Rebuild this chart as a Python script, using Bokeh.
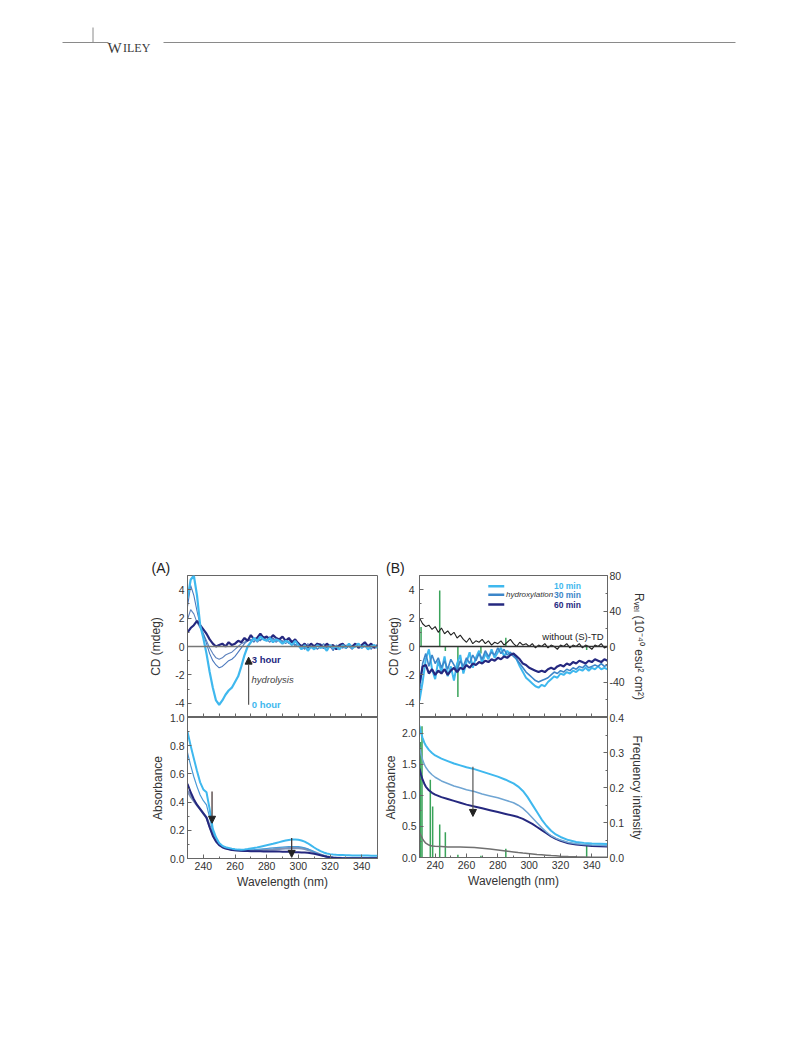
from bokeh.plotting import figure
from bokeh.layouts import column, row
from bokeh.models import (Range1d, LinearAxis, FixedTicker, NumeralTickFormatter, Label,
                          Arrow, NormalHead, Span, Spacer, ColumnDataSource)
from bokeh.embed import file_html
from bokeh.resources import INLINE

FONT = "Liberation Sans"

# ------------------------------------------------------------------ data
wl = list(range(230, 351, 2))

# Panel A - CD (mdeg), hydrolysis 0 h ... 3 h
a_cd_0h = [3.4, 4.7, 5.0, 3.6, 1.5, 0.6, -0.5, -1.8, -2.9, -3.8,
           -4.1, -3.8, -3.4, -3.1, -2.9, -2.5, -2.1, -1.4, -0.6, 0.0,
           0.3, 0.6, 0.4, 0.7, 0.5, 0.4, 0.6, 0.3, 0.5, 0.4,
           0.2, 0.4, 0.3, 0.1, 0.4, 0.1, -0.2, 0.1, -0.3, 0.0,
           -0.2, 0.1, -0.1, 0.0, -0.3, 0.1, -0.1, 0.0, -0.2, 0.1,
           -0.1, 0.2, -0.1, 0.0, 0.2, -0.1, 0.1, -0.2, 0.0, 0.1,
           -0.1]
a_cd_1h = [2.8, 4.3, 3.6, 2.5, 1.5, 0.9, 0.2, -0.5, -1.0, -1.3,
           -1.5, -1.4, -1.2, -1.0, -0.9, -0.7, -0.4, -0.1, 0.2, 0.4,
           0.5, 0.3, 0.6, 0.4, 0.7, 0.5, 0.3, 0.6, 0.4, 0.5,
           0.3, 0.5, 0.2, 0.4, 0.1, 0.3, 0.0, -0.2, 0.1, -0.1,
           0.1, -0.2, 0.0, 0.2, -0.1, 0.0, -0.3, 0.1, 0.0, -0.1,
           0.1, 0.0, -0.2, 0.1, 0.2, -0.1, 0.0, 0.1, -0.2, 0.1,
           0.0]
a_cd_2h = [1.9, 2.6, 2.3, 1.7, 1.3, 0.9, 0.4, -0.1, -0.5, -0.8,
           -0.9, -0.8, -0.6, -0.5, -0.4, -0.2, 0.0, 0.2, 0.3, 0.5,
           0.4, 0.6, 0.3, 0.5, 0.6, 0.4, 0.7, 0.5, 0.3, 0.5,
           0.4, 0.2, 0.4, 0.3, 0.0, 0.2, 0.1, -0.1, 0.2, 0.0,
           -0.1, 0.1, 0.2, -0.1, 0.0, 0.1, -0.2, 0.0, 0.1, -0.1,
           0.0, 0.1, -0.1, 0.2, 0.0, -0.1, 0.1, 0.0, 0.2, -0.1,
           0.1]
a_cd_3h = [1.0, 1.3, 1.5, 1.8, 1.5, 1.2, 0.9, 0.5, 0.2, 0.0,
           0.1, 0.2, 0.0, 0.3, 0.1, 0.2, 0.4, 0.3, 0.6, 0.4,
           0.8, 0.5, 0.6, 0.9, 0.6, 0.7, 0.5, 0.8, 0.6, 0.5,
           0.7, 0.4, 0.6, 0.3, 0.5, 0.2, 0.0, 0.2, -0.1, 0.2,
           0.0, 0.2, 0.1, -0.1, 0.2, 0.0, 0.1, -0.2, 0.1, 0.2,
           -0.1, 0.1, 0.0, 0.2, -0.1, 0.1, 0.3, 0.0, 0.2, -0.1,
           0.1]

# Panel A - Absorbance
a_abs_0h = [0.90, 0.80, 0.71, 0.62, 0.54, 0.49, 0.47, 0.35, 0.21, 0.15,
            0.11, 0.09, 0.08, 0.075, 0.07, 0.066, 0.063, 0.062, 0.064, 0.067,
            0.071, 0.075, 0.079, 0.084, 0.089, 0.094, 0.099, 0.104, 0.11, 0.116,
            0.122, 0.127, 0.131, 0.134, 0.135, 0.133, 0.128, 0.12, 0.108, 0.093,
            0.078, 0.064, 0.052, 0.043, 0.036, 0.031, 0.028, 0.026, 0.025, 0.024,
            0.023, 0.023, 0.022, 0.022, 0.022, 0.021, 0.021, 0.021, 0.02, 0.02,
            0.02]
a_abs_1h = [0.75, 0.66, 0.58, 0.51, 0.45, 0.41, 0.38, 0.29, 0.19, 0.14,
            0.10, 0.085, 0.075, 0.07, 0.066, 0.063, 0.061, 0.06, 0.06, 0.061,
            0.062, 0.063, 0.065, 0.067, 0.069, 0.071, 0.073, 0.075, 0.077, 0.079,
            0.081, 0.083, 0.084, 0.085, 0.085, 0.084, 0.081, 0.076, 0.068, 0.058,
            0.047, 0.036, 0.026, 0.018, 0.012, 0.008, 0.006, 0.005, 0.004, 0.004,
            0.003, 0.003, 0.003, 0.003, 0.003, 0.003, 0.003, 0.003, 0.003, 0.003,
            0.003]
a_abs_2h = [0.48, 0.44, 0.41, 0.38, 0.35, 0.32, 0.29, 0.23, 0.17, 0.13,
            0.10, 0.085, 0.075, 0.068, 0.064, 0.06, 0.058, 0.056, 0.055, 0.055,
            0.055, 0.056, 0.057, 0.058, 0.06, 0.061, 0.063, 0.064, 0.066, 0.068,
            0.07, 0.072, 0.073, 0.074, 0.075, 0.074, 0.072, 0.068, 0.062, 0.054,
            0.045, 0.036, 0.027, 0.02, 0.014, 0.01, 0.007, 0.005, 0.004, 0.003,
            0.003, 0.002, 0.002, 0.002, 0.002, 0.002, 0.002, 0.002, 0.002, 0.002,
            0.002]
a_abs_3h = [0.53, 0.47, 0.42, 0.38, 0.35, 0.32, 0.29, 0.22, 0.16, 0.12,
            0.095, 0.08, 0.07, 0.065, 0.06, 0.058, 0.056, 0.055, 0.054, 0.053,
            0.052, 0.052, 0.051, 0.051, 0.05, 0.05, 0.05, 0.049, 0.049, 0.049,
            0.048, 0.048, 0.047, 0.046, 0.045, 0.044, 0.043, 0.042, 0.04, 0.037,
            0.033, 0.028, 0.023, 0.018, 0.013, 0.009, 0.006, 0.004, 0.003, 0.002,
            0.001, 0.001, 0.001, 0.001, 0.001, 0.001, 0.001, 0.001, 0.001, 0.001,
            0.001]

# Panel B - CD (mdeg), hydroxylation 10 / 30 / 60 min and control
b_cd_ctrl = [2.0, 1.6, 1.4, 1.5, 1.2, 1.4, 1.0, 1.3, 0.9, 1.1,
             0.8, 1.0, 0.6, 0.8, 0.5, 0.3, 0.6, 0.2, 0.4, 0.3,
             0.5, 0.2, 0.4, 0.1, 0.3, 0.2, 0.4, 0.1, 0.3, 0.5,
             0.2, 0.0, 0.3, 0.1, 0.2, 0.0, 0.2, -0.1, 0.1, 0.0,
             0.2, -0.1, 0.1, 0.0, -0.2, 0.1, 0.0, 0.2, -0.1, 0.1,
             0.0, 0.2, -0.1, 0.1, 0.0, -0.2, 0.1, 0.0, 0.2, -0.1,
             0.0]
b_cd_10 = [-3.8, -2.5, -0.9, -0.2, -1.6, -2.3, -1.0, -1.8, -0.7, -2.1,
           -1.4, -2.4, -1.2, -0.6, -1.9, -1.1, -0.4, -1.5, -0.8, -0.3,
           -1.2, -0.5, -0.9, -0.2, -0.8, -0.4, -0.1, -0.7, -0.3, -0.6,
           -0.5, -0.9, -1.4, -1.8, -2.2, -2.4, -2.6, -2.8, -2.9, -2.7,
           -2.8, -2.5, -2.3, -2.1, -2.2, -1.9, -2.0, -1.8, -1.9, -1.7,
           -1.8, -1.6, -1.7, -1.5, -1.7, -1.5, -1.6, -1.4, -1.6, -1.5,
           -1.6]
b_cd_30 = [-3.2, -1.2, -0.5, -1.4, -0.6, -1.2, -0.8, -1.5, -1.0, -1.6,
           -0.9, -1.3, -1.7, -1.0, -1.4, -0.8, -1.2, -0.6, -1.0, -0.5,
           -0.9, -0.3, -0.7, -0.4, -0.6, -0.1, -0.5, -0.2, -0.6, -0.4,
           -0.7, -0.9, -1.2, -1.5, -1.8, -2.0, -2.2, -2.4, -2.5, -2.4,
           -2.3, -2.2, -2.0, -1.8, -1.9, -1.7, -1.8, -1.6, -1.7, -1.5,
           -1.6, -1.4, -1.5, -1.3, -1.5, -1.4, -1.3, -1.4, -1.2, -1.4,
           -1.3]
b_cd_60 = [-2.6, -1.4, -1.3, -1.9, -1.6, -2.0, -1.7, -1.9, -1.6, -2.0,
           -1.7, -1.5, -1.8, -1.5, -1.6, -1.3, -1.5, -1.2, -1.3, -1.1,
           -1.2, -1.0, -1.1, -0.9, -1.0, -0.8, -0.9, -0.7, -0.8, -0.6,
           -0.5, -0.7, -0.9, -1.2, -1.3, -1.5, -1.6, -1.7, -1.8, -1.7,
           -1.8, -1.6, -1.5, -1.6, -1.4, -1.3, -1.4, -1.2, -1.3, -1.1,
           -1.2, -1.0, -1.1, -1.2, -1.0, -1.1, -0.9, -1.0, -1.1, -0.9,
           -1.0]

# Calculated rotatory strengths (10^-40 esu^2 cm^2)
rvel_wl = [231.0, 242.9, 246.5, 254.5, 269.2, 285.1, 336.7]
rvel_val = [22, 63, -5, -57, -8, 10, -4]

# Panel B - Absorbance
wl_b = [230, 231, 232, 233, 234, 236, 238, 240, 244, 248, 252, 256, 260, 265, 270,
        275, 280, 285, 290, 293, 296, 299, 302, 305, 308, 311, 314, 317, 320, 325,
        330, 335, 340, 345, 350]
b_abs_10 = [2.12, 2.0, 1.92, 1.85, 1.80, 1.73, 1.68, 1.64, 1.59, 1.55, 1.51, 1.48, 1.45, 1.42, 1.38,
            1.34, 1.30, 1.25, 1.19, 1.14, 1.07, 0.97, 0.85, 0.73, 0.61, 0.51, 0.43, 0.37, 0.33, 0.28,
            0.25, 0.235, 0.225, 0.22, 0.215]
b_abs_30 = [1.78, 1.66, 1.57, 1.50, 1.45, 1.38, 1.33, 1.29, 1.23, 1.19, 1.15, 1.12, 1.09, 1.06, 1.02,
            0.99, 0.96, 0.92, 0.88, 0.84, 0.79, 0.72, 0.64, 0.56, 0.48, 0.41, 0.35, 0.31, 0.28, 0.24,
            0.22, 0.21, 0.20, 0.195, 0.19]
b_abs_60 = [1.43, 1.33, 1.25, 1.19, 1.14, 1.08, 1.04, 1.01, 0.97, 0.94, 0.91, 0.88, 0.85, 0.82, 0.79,
            0.76, 0.73, 0.70, 0.67, 0.65, 0.62, 0.58, 0.54, 0.49, 0.44, 0.39, 0.34, 0.30, 0.27, 0.23,
            0.21, 0.195, 0.185, 0.18, 0.175]
b_abs_ctrl = [0.40, 0.35, 0.30, 0.26, 0.23, 0.20, 0.185, 0.18, 0.175, 0.17, 0.17, 0.168, 0.165, 0.16, 0.15,
              0.135, 0.12, 0.105, 0.09, 0.08, 0.072, 0.065, 0.058, 0.05, 0.044, 0.038, 0.032, 0.027, 0.022, 0.016,
              0.011, 0.008, 0.005, 0.004, 0.003]

# Calculated oscillator strengths
osc_wl = [230.7, 231.6, 236.9, 238.4, 242.9, 246.5, 254.5, 269.2, 285.1, 336.7]
osc_val = [0.33, 0.375, 0.222, 0.146, 0.094, 0.072, 0.008, 0.005, 0.025, 0.04]

x_major = [240, 260, 280, 300, 320, 340]
x_minor = [230, 250, 270, 290, 310, 330, 350]
x_all = list(range(230, 351, 10))

# ------------------------------------------------------------------ styles
LIGHT = "#3fb8ee"
MID = "#3c86c9"
NAVY = "#25287f"
THIN1 = "#4a78bd"
THIN2 = "#5d82bd"
AXC = "#666666"
TXT = "#333333"
GREEN = "#3aa35a"


def base(w, h, xr, yr, ml, mr, mt, mb, title=None, title_offset=0):
    p = figure(width=w, height=h, x_range=xr, y_range=yr, output_backend="svg",
               toolbar_location=None, x_axis_location=None, y_axis_location=None,
               min_border_left=ml, min_border_right=mr, min_border_top=mt,
               min_border_bottom=mb, title=title)
    if title:
        p.title.text_font = FONT
        p.title.text_font_size = "14px"
        p.title.text_font_style = "normal"
        p.title.text_color = "#222222"
        p.title.align = "left"
        p.title.offset = title_offset
        p.title.standoff = 0
    p.grid.visible = False
    p.outline_line_color = AXC
    p.outline_line_width = 1
    p.background_fill_color = "white"
    p.border_fill_color = None
    return p


def axis(ticks, minor, fmt=None, label=None, standoff=3, label_standoff=5,
         size="10.5px", tick_len=4, minor_len=2, **kw):
    ax = LinearAxis(ticker=FixedTicker(ticks=ticks, minor_ticks=minor), **kw)
    ax.major_tick_in = tick_len
    ax.major_tick_out = 0
    ax.minor_tick_in = minor_len
    ax.minor_tick_out = 0
    ax.axis_line_color = AXC
    ax.major_tick_line_color = AXC
    ax.minor_tick_line_color = AXC
    if fmt is not None:
        ax.formatter = NumeralTickFormatter(format=fmt)
    ax.major_label_text_font = FONT
    ax.major_label_text_color = TXT
    ax.major_label_standoff = standoff
    ax.major_label_text_font_size = size
    if label:
        ax.axis_label = label
        ax.axis_label_text_font = FONT
        ax.axis_label_text_font_size = "12px"
        ax.axis_label_text_font_style = "normal"
        ax.axis_label_text_color = TXT
        ax.axis_label_standoff = label_standoff
    return ax


def boundary_ticks():
    # ticks of the CD panel's bottom edge, drawn upward from the shared border
    ax = LinearAxis(ticker=FixedTicker(ticks=[], minor_ticks=x_all))
    ax.minor_tick_in = 0
    ax.minor_tick_out = 4
    ax.major_tick_in = 0
    ax.major_tick_out = 0
    ax.major_label_standoff = 0
    ax.axis_line_color = AXC
    ax.minor_tick_line_color = AXC
    return ax


def label(p, x, y, text, size="10px", color=TXT, style="normal", align="left",
          baseline="middle", font=FONT):
    p.add_layout(Label(x=x, y=y, text=text, text_font=font, text_font_size=size,
                       text_color=color, text_font_style=style, text_align=align,
                       text_baseline=baseline))


def arrow(p, x0, y0, x1, y1, color="#555555"):
    p.add_layout(Arrow(end=NormalHead(size=7, fill_color="#222222", line_color="#222222"),
                       x_start=x0, y_start=y0, x_end=x1, y_end=y1,
                       line_color=color, line_width=1.2))


# ------------------------------------------------------------------ header (page coordinates)
HDR_H = 556
hdr = figure(width=785, height=HDR_H, x_range=Range1d(0, 785), y_range=Range1d(HDR_H, 0),
             output_backend="svg", toolbar_location=None, x_axis_location=None,
             y_axis_location=None, min_border=0, title=None)
hdr.grid.visible = False
hdr.outline_line_color = None
hdr.background_fill_color = None
hdr.border_fill_color = None
hdr.segment(x0=[62, 163], y0=[42, 42], x1=[108, 735], y1=[42, 42], line_color="#8a8a8a", line_width=1)
hdr.segment(x0=[92.5], y0=[27], x1=[92.5], y1=[42], line_color="#8a8a8a", line_width=1)
label(hdr, 107, 47.5, "W", size="15px", color="#3a3a3a", baseline="alphabetic", font="Liberation Serif")
label(hdr, 122.5, 47.5, "ILEY", size="12px", color="#3a3a3a", baseline="alphabetic", font="Liberation Serif")

# ------------------------------------------------------------------ panel A
TOP = 575 - HDR_H
xA = Range1d(230, 350)
a_cd = base(234, TOP + 142, xA, Range1d(-5, 5), 40, 3, TOP, 0, title="(A)", title_offset=-36)
a_cd.add_layout(axis([-4, -2, 0, 2, 4], [-5, -3, -1, 1, 3, 5], fmt="0",
                     label="CD (mdeg)", label_standoff=9), "left")
a_cd.add_layout(Span(location=0, dimension="width", line_color="#777777", line_width=1.5))
src_acd = ColumnDataSource(dict(x=wl, t0=a_cd_0h, t1=a_cd_1h, t2=a_cd_2h, t3=a_cd_3h))
a_cd.line("x", "t2", source=src_acd, line_color=THIN2, line_width=1.1)
a_cd.line("x", "t1", source=src_acd, line_color=THIN1, line_width=1.1)
a_cd.line("x", "t3", source=src_acd, line_color=NAVY, line_width=2.2)
a_cd.line("x", "t0", source=src_acd, line_color=LIGHT, line_width=2.2)
arrow(a_cd, 268.6, -4.1, 268.6, -0.75)
label(a_cd, 270.6, -0.9, "3 hour", size="9.5px", color=NAVY, style="bold")
label(a_cd, 270.4, -2.35, "hydrolysis", size="9.5px", color="#444444", style="italic")
label(a_cd, 270.6, -4.05, "0 hour", size="9.5px", color=LIGHT, style="bold")

a_abs = base(234, 191, xA, Range1d(0, 1.0), 40, 3, 8, 42)
a_abs.margin = (-8, 0, 0, 0)
a_abs.add_layout(axis([0, 0.2, 0.4, 0.6, 0.8, 1.0], [0.1, 0.3, 0.5, 0.7, 0.9], fmt="0.0",
                      label="Absorbance", label_standoff=2), "left")
a_abs.add_layout(axis(x_major, x_minor, label="Wavelength (nm)", label_standoff=2), "below")
a_abs.add_layout(boundary_ticks(), "above")
src_aab = ColumnDataSource(dict(x=wl, t0=a_abs_0h, t1=a_abs_1h, t2=a_abs_2h, t3=a_abs_3h))
a_abs.line("x", "t2", source=src_aab, line_color="#7f93b8", line_width=2.4)
a_abs.line("x", "t1", source=src_aab, line_color="#4a9ad6", line_width=1.2)
a_abs.line("x", "t3", source=src_aab, line_color=NAVY, line_width=2.0)
a_abs.line("x", "t0", source=src_aab, line_color=LIGHT, line_width=2.0)
arrow(a_abs, 245.5, 0.475, 245.5, 0.25, color="#3a2a2a")
arrow(a_abs, 295.8, 0.145, 295.8, 0.008, color="#3a2a2a")

# ------------------------------------------------------------------ panel B
xB = Range1d(230, 350)
b_cd = base(268, TOP + 142, xB, Range1d(-5, 5), 35, 37, TOP, 0, title="(B)", title_offset=-33.5)
b_cd.extra_y_ranges = {"r": Range1d(-80, 80)}
b_cd.add_layout(axis([-4, -2, 0, 2, 4], [-5, -3, -1, 1, 3, 5], fmt="0",
                     label="CD (mdeg)", standoff=5, label_standoff=1), "left")
b_cd.add_layout(axis([-40, 0, 40, 80], [-60, -20, 20, 60], fmt="0",
                     label="R\u1d65\u2091\u2097 (10\u207b\u2074\u2070 esu\u00b2 cm\u00b2)",
                     standoff=2, label_standoff=4, y_range_name="r"), "right")
b_cd.segment(x0=rvel_wl, y0=[0] * len(rvel_wl), x1=rvel_wl, y1=rvel_val,
             line_color=GREEN, line_width=1.5, y_range_name="r")
b_cd.add_layout(Span(location=0, dimension="width", line_color="#333333", line_width=1.5))
src_bcd = ColumnDataSource(dict(x=wl, c=b_cd_ctrl, m10=b_cd_10, m30=b_cd_30, m60=b_cd_60))
b_cd.line("x", "c", source=src_bcd, line_color="#222222", line_width=1.1)
b_cd.line("x", "m10", source=src_bcd, line_color=LIGHT, line_width=2.0)
b_cd.line("x", "m30", source=src_bcd, line_color=MID, line_width=1.6)
b_cd.line("x", "m60", source=src_bcd, line_color=NAVY, line_width=2.2)
# hand-made legend
b_cd.segment(x0=[273.9] * 3, y0=[4.25, 3.65, 2.95], x1=[284.1] * 3, y1=[4.25, 3.65, 2.95],
             line_color=[LIGHT, MID, NAVY], line_width=2.5)
label(b_cd, 285.2, 3.65, "hydroxylation", size="8px", color="#333333", style="italic")
label(b_cd, 333.0, 4.25, "10 min", size="8.5px", color=LIGHT, style="bold", align="right")
label(b_cd, 333.0, 3.65, "30 min", size="8.5px", color=MID, style="bold", align="right")
label(b_cd, 333.0, 2.95, "60 min", size="8.5px", color=NAVY, style="bold", align="right")
label(b_cd, 308.4, 0.7, "without (S)-TD", size="9.5px", color="#222222")

b_abs = base(268, 191, xB, Range1d(0, 2.25), 35, 37, 8, 43)
b_abs.margin = (-8, 0, 0, 0)
b_abs.extra_y_ranges = {"f": Range1d(0, 0.4)}
b_abs.add_layout(axis([0, 0.5, 1.0, 1.5, 2.0], [0.25, 0.75, 1.25, 1.75], fmt="0.0",
                      label="Absorbance", label_standoff=1), "left")
b_abs.add_layout(axis([0, 0.1, 0.2, 0.3, 0.4], [0.05, 0.15, 0.25, 0.35], fmt="0.0",
                      label="Frequency intensity", standoff=2, label_standoff=3,
                      y_range_name="f"), "right")
b_abs.add_layout(axis(x_major, x_minor, label="Wavelength (nm)", label_standoff=2), "below")
b_abs.add_layout(boundary_ticks(), "above")
b_abs.segment(x0=osc_wl, y0=[0] * len(osc_wl), x1=osc_wl, y1=osc_val,
              line_color=GREEN, line_width=1.5, y_range_name="f")
src_bab = ColumnDataSource(dict(x=wl_b, c=b_abs_ctrl, m10=b_abs_10, m30=b_abs_30, m60=b_abs_60))
b_abs.line("x", "c", source=src_bab, line_color="#707070", line_width=1.5)
b_abs.line("x", "m60", source=src_bab, line_color=NAVY, line_width=2.0)
b_abs.line("x", "m30", source=src_bab, line_color="#6fa5d3", line_width=1.5)
b_abs.line("x", "m10", source=src_bab, line_color=LIGHT, line_width=2.0)
arrow(b_abs, 264.1, 1.46, 264.1, 0.66)

# ------------------------------------------------------------------ layout
panels = row(Spacer(width=146, height=10),
             column(a_cd, a_abs),
             column(b_cd, b_abs))
layout = column(hdr, panels)

open("out.html", "w").write(file_html(layout, INLINE))
